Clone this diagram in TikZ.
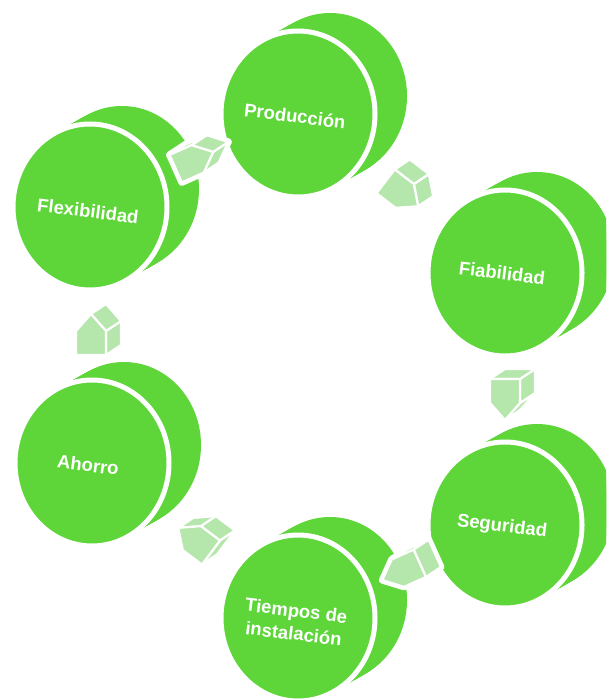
\documentclass[tikz,border=0pt]{standalone}
\usepackage{fontspec}
\setmainfont{Liberation Sans}
\usetikzlibrary{calc}
\definecolor{discgreen}{RGB}{94,214,58}
\definecolor{arrowgreen}{RGB}{181,230,172}
\tikzset{
  discbody/.style={fill=discgreen},
  discface/.style={fill=discgreen, draw=white, line width=5},
  lbl/.style={text=white, font=\fontsize{18.5}{23}\selectfont\bfseries, rotate=-7, align=center, inner sep=0pt},
  arrowhalo/.style={fill=white, draw=white, line width=7, line join=round},
  arrowface/.style={fill=arrowgreen, draw=white, line width=2.2, line join=round}
}
\newcommand\drawdisc[1]{%
  \foreach \k in {0,...,16}{\path[discbody] ($(#1)+(\k*2,\k*1.125)$) ellipse [x radius=77, y radius=83];}
  \path[discface] (#1) ellipse [x radius=77, y radius=83];
}
\newcommand\blockarrow[3]{%
  \pgfmathsetmacro\bex{15*cos(#3)+10*sin(#3)}%
  \pgfmathsetmacro\bey{-15*sin(#3)+10*cos(#3)}%
  \pgfmathtruncatemacro\vA{\bey<0}%
  \pgfmathtruncatemacro\vB{15*\bex-17*\bey>0}%
  \pgfmathtruncatemacro\vC{15*\bex+17*\bey>0}%
  \pgfmathtruncatemacro\vD{\bey>0}%
  \pgfmathtruncatemacro\vE{\bex<0}%
  \begin{scope}[shift={($(#1)!0.5!(#2)$)}, rotate=#3]
    \foreach \st in {arrowhalo, arrowface}{%
      \ifnum\vA=1 \path[\st] (-20,-15) -- (4,-15) -- ++(\bex,\bey) -- ++(-24,0) -- cycle;\fi
      \ifnum\vB=1 \path[\st] (4,-15) -- (21,0) -- ++(\bex,\bey) -- ++(-17,-15) -- cycle;\fi
      \ifnum\vC=1 \path[\st] (21,0) -- (4,15) -- ++(\bex,\bey) -- ++(17,-15) -- cycle;\fi
      \ifnum\vD=1 \path[\st] (4,15) -- (-20,15) -- ++(\bex,\bey) -- ++(24,0) -- cycle;\fi
      \ifnum\vE=1 \path[\st] (-20,15) -- (-20,-15) -- ++(\bex,\bey) -- ++(0,30) -- cycle;\fi
      \path[\st] (-20,-15) -- (4,-15) -- (21,0) -- (4,15) -- (-20,15) -- cycle;
    }
  \end{scope}}
\begin{document}
\begin{tikzpicture}[x=1pt, y=1pt]
  \useasboundingbox (0,0) rectangle (606,-700);
  \clip (0,0) rectangle (606,-700);
  % disc centres (front faces)
  \coordinate (prod) at (298,-114);
  \coordinate (fiab) at (505,-273);
  \coordinate (seg)  at (505,-525);
  \coordinate (tiem) at (298,-618);
  \coordinate (ahor) at (92,-463);
  \coordinate (flex) at (90,-207);
  % discs
  \drawdisc{prod}
  \drawdisc{fiab}
  \drawdisc{seg}
  \drawdisc{tiem}
  \drawdisc{ahor}
  \drawdisc{flex}
  % labels
  \node[lbl] (prodlbl) at ($(prod)+(-3,-2)$) {Producción};
  \node[lbl] (fiablbl) at ($(fiab)+(-3,0)$) {Fiabilidad};
  \node[lbl] (seglbl)  at ($(seg)+(-3,-2)$) {Seguridad};
  \node[lbl] (tiemlbl) at ($(tiem)+(-3,-4)$) {Tiempos de\\instalación};
  \node[lbl] (ahorlbl) at ($(ahor)+(-4,-2)$) {Ahorro};
  \node[lbl] (flexlbl) at ($(flex)+(-2,-4)$) {Flexibilidad};
  % 3D block arrows between discs (clockwise cycle)
  \blockarrow{flex}{prod}{24}
  \blockarrow{prod}{fiab}{-37.5}
  \blockarrow{fiab}{seg}{-90}
  \blockarrow{seg}{tiem}{-155.8}
  \blockarrow{tiem}{ahor}{143}
  \blockarrow{ahor}{flex}{90}
\end{tikzpicture}
\end{document}
